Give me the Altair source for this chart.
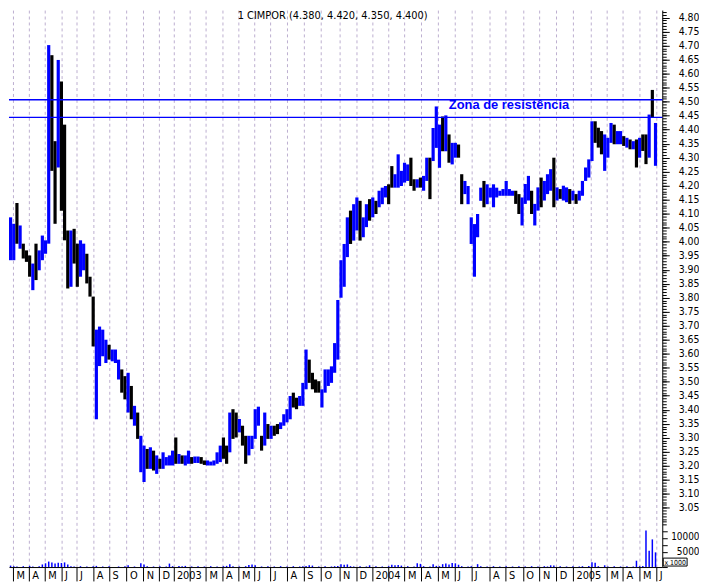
import json
import altair as alt
import numpy as np
import pandas as pd

FONT = "DejaVu Sans Condensed, Liberation Sans, sans-serif"

# ---------------- data ----------------
# one sample = 4 trading sessions; low / high price of each sample
lows = [
    3.934, 3.934, 3.993, 3.975, 3.940, 3.928, 3.875, 3.827, 3.863, 3.898,
    3.934, 3.957, 3.993, 4.253, 4.064, 4.265, 4.111, 4.005, 3.833, 3.839,
    3.922, 3.839, 3.875, 3.898, 3.851, 3.804, 3.626, 3.366, 3.556, 3.591,
    3.567, 3.579, 3.573, 3.567, 3.508, 3.461, 3.437, 3.390, 3.366, 3.343,
    3.296, 3.177, 3.142, 3.189, 3.189, 3.183, 3.171, 3.189, 3.189, 3.201,
    3.201, 3.201, 3.207, 3.207, 3.207, 3.201, 3.207, 3.207, 3.210, 3.210,
    3.207, 3.203, 3.201, 3.201, 3.201, 3.207, 3.213, 3.225, 3.207, 3.248,
    3.296, 3.301, 3.319, 3.272, 3.207, 3.237, 3.260, 3.296, 3.343, 3.254,
    3.272, 3.296, 3.296, 3.307, 3.313, 3.331, 3.343, 3.355, 3.366, 3.408,
    3.402, 3.414, 3.414, 3.473, 3.496, 3.473, 3.461, 3.461, 3.408, 3.461,
    3.485, 3.496, 3.532, 3.579, 3.800, 3.839, 3.945, 3.992, 4.004, 4.040,
    4.004, 4.016, 4.052, 4.075, 4.087, 4.099, 4.123, 4.134, 4.158, 4.134,
    4.193, 4.193, 4.193, 4.199, 4.211, 4.217, 4.199, 4.182, 4.193, 4.193,
    4.182, 4.217, 4.152, 4.288, 4.335, 4.264, 4.323, 4.323, 4.282, 4.276,
    4.300, 4.300, 4.134, 4.170, 4.134, 3.992, 3.875, 4.016, 4.146, 4.123,
    4.134, 4.158, 4.123, 4.158, 4.164, 4.164, 4.164, 4.164, 4.164, 4.135,
    4.099, 4.058, 4.135, 4.147, 4.099, 4.058, 4.111, 4.123, 4.147, 4.170,
    4.182, 4.123, 4.147, 4.153, 4.147, 4.141, 4.135, 4.147, 4.135, 4.147,
    4.164, 4.217, 4.229, 4.288, 4.353, 4.336, 4.312, 4.253, 4.300, 4.353,
    4.348, 4.348, 4.348, 4.342, 4.336, 4.330, 4.330, 4.265, 4.300, 4.324,
    4.277, 4.300, 4.442, 4.271,
]
highs = [
    4.087, 4.064, 4.138, 4.058, 3.993, 3.969, 3.951, 3.922, 3.993, 3.969,
    4.022, 4.005, 4.702, 4.666, 4.359, 4.649, 4.572, 4.418, 4.040, 4.040,
    4.046, 3.993, 4.005, 3.993, 3.957, 3.875, 3.804, 3.686, 3.697, 3.686,
    3.650, 3.632, 3.615, 3.615, 3.579, 3.544, 3.520, 3.532, 3.485, 3.414,
    3.390, 3.307, 3.272, 3.260, 3.266, 3.254, 3.237, 3.225, 3.248, 3.231,
    3.237, 3.254, 3.301, 3.242, 3.237, 3.237, 3.254, 3.231, 3.233, 3.233,
    3.231, 3.219, 3.219, 3.215, 3.219, 3.248, 3.272, 3.301, 3.272, 3.390,
    3.402, 3.390, 3.367, 3.343, 3.307, 3.307, 3.307, 3.402, 3.411, 3.307,
    3.390, 3.349, 3.343, 3.343, 3.349, 3.355, 3.384, 3.402, 3.449, 3.461,
    3.443, 3.449, 3.496, 3.615, 3.579, 3.532, 3.508, 3.502, 3.473, 3.544,
    3.544, 3.555, 3.638, 3.792, 3.934, 3.992, 4.087, 4.111, 4.134, 4.158,
    4.146, 4.087, 4.134, 4.152, 4.158, 4.146, 4.182, 4.193, 4.199, 4.205,
    4.270, 4.241, 4.312, 4.253, 4.282, 4.276, 4.300, 4.223, 4.223, 4.229,
    4.235, 4.300, 4.300, 4.406, 4.483, 4.418, 4.447, 4.451, 4.383, 4.353,
    4.353, 4.347, 4.241, 4.217, 4.199, 4.087, 4.063, 4.099, 4.193, 4.217,
    4.205, 4.193, 4.205, 4.193, 4.182, 4.188, 4.217, 4.188, 4.182, 4.182,
    4.170, 4.158, 4.206, 4.235, 4.182, 4.135, 4.194, 4.229, 4.217, 4.241,
    4.259, 4.300, 4.194, 4.188, 4.200, 4.194, 4.188, 4.182, 4.170, 4.182,
    4.217, 4.265, 4.294, 4.430, 4.430, 4.407, 4.395, 4.383, 4.371, 4.424,
    4.418, 4.395, 4.395, 4.377, 4.371, 4.365, 4.359, 4.365, 4.371, 4.383,
    4.383, 4.454, 4.542, 4.424,
]
# b = up (blue bar), k = down (black bar)
direction = (
    "bbkbkkkbkb" "bbbkkbkkkb" "kkbbkkkbbb" "bkbbbkkbkb" "kbbkbkbkbb"
    "bbkbkbbkbb" "kkbbbbbkkb" "kkbkkbbbbk" "bkbkkbbbbk" "kbbbkkkkbb"
    "bbbbbbbkbb" "kbbkbkbbbk" "kbbbbbkkbk" "bbkbbbkbkb" "bkkbbbbbbk"
    "bbbbbbbbbk" "kbbbkbbkbb" "bkbkbbkbkb" "bbbbkkkbbb" "kbbkbkbkbk"
    "kbkb"
)
volume = [
    500, 300, 200, 0, 300, 0, 400, 200, 0, 300,
    900, 1300, 1900, 1600, 1200, 1500, 1400, 1600, 900, 300,
    200, 0, 300, 0, 200, 0, 300, 400, 0, 200,
    0, 300, 0, 0, 200, 0, 300, 600, 0, 200,
    0, 1300, 900, 300, 0, 200, 0, 300, 0, 200,
    1200, 300, 0, 400, 300, 400, 0, 200, 0, 300,
    0, 200, 0, 300, 0, 200, 0, 300, 400, 1000,
    300, 0, 200, 0, 300, 700, 900, 600, 0, 200,
    0, 300, 0, 200, 0, 300, 0, 200, 0, 300,
    0, 200, 300, 400, 600, 500, 0, 200, 0, 300,
    0, 200, 300, 400, 1000, 800, 900, 300, 200, 0,
    300, 0, 200, 600, 0, 300, 0, 200, 0, 300,
    800, 600, 700, 500, 0, 300, 0, 200, 1300, 1100,
    300, 0, 200, 1000, 400, 300, 1000, 1200, 900, 1400,
    1300, 800, 300, 0, 200, 300, 0, 1000, 300, 0,
    200, 0, 300, 0, 200, 0, 300, 0, 200, 0,
    300, 0, 200, 0, 300, 0, 200, 0, 300, 200,
    600, 500, 0, 300, 0, 200, 0, 300, 0, 200,
    300, 0, 400, 1700, 1500, 300, 0, 600, 200, 0,
    300, 0, 200, 0, 300, 0, 200, 2200, 300, 400,
    12700, 5700, 9600, 5100,
]

# month axis: first session of Mar 2002, then trading sessions per month
first_month_session = 5
month_sessions = [20, 20, 21, 19, 21, 20, 22, 21, 20, 18,
                  20, 21, 21, 20, 20, 20, 21, 21, 22, 23, 21, 20,
                  21, 20, 21, 21, 21, 21, 23, 20, 22, 21, 21, 21,
                  22, 21, 20, 21, 21]
month_labels = ["M", "A", "M", "J", "J", "A", "S", "O", "N", "D",
                "2003", "", "M", "A", "M", "J", "J", "A", "S", "O", "N", "D",
                "2004", "", "M", "A", "M", "J", "J", "A", "S", "O", "N", "D",
                "2005", "", "M", "A", "M", "J"]
price_labels = [round(3.05 + 0.05 * k, 2) for k in range(36)]      # 3.05 .. 4.80
price_minor = [round(2.99 + 0.01 * k, 2) for k in range(184)]      # 2.99 .. 4.82
volume_labels = [5000, 10000]
volume_ticks = [0, 2500, 5000, 7500, 10000, 12500]

resistance = [4.507, 4.444]
resistance_text = "Zona de resistência"
resistance_text_pos = (553.75, 4.487)   # (session, price)
title_text = "1 CIMPOR (4.380, 4.420, 4.350, 4.400)"

assert len(lows) == len(highs) == len(direction) == len(volume)

n = len(lows)
idx = np.arange(n)
df = pd.DataFrame({
    "s0": idx * 4, "s1": idx * 4 + 4, "sc": idx * 4 + 2,
    "low": lows, "high": highs, "dir": list(direction), "vol": volume,
})
month_ticks = [int(v) for v in first_month_session + np.concatenate([[0], np.cumsum(month_sessions)])]

# ---------------- scales & axes ----------------
W, H = 658, 561
xscale = alt.Scale(domain=[0, 822.5], nice=False, zero=False)
pscale = alt.Scale(domain=[2.8384, 4.8271], nice=False, zero=False)
vscale = alt.Scale(domain=[0, 193448], nice=False, zero=True)

x_axis = alt.Axis(
    values=month_ticks,
    labelExpr=f"{json.dumps(month_labels)}[indexof({json.dumps(month_ticks)}, datum.value)]",
    title=None, grid=True, gridColor="#bcaed0", gridDash=[3, 3], gridWidth=1,
    tickSize=14, tickColor="black", domainColor="black",
    labelAlign="left", labelBaseline="middle", labelPadding=-5, labelOffset=3,
    labelFont=FONT, labelFontSize=11, labelColor="black",
    labelFlush=False, labelOverlap=False, labelBound=False,
)
X = alt.X("s0:Q", scale=xscale, axis=x_axis)

price_axis = alt.Axis(
    orient="right", values=price_labels, format=".2f", title=None, grid=False,
    tickSize=7, tickColor="black", domainColor="black",
    labelAlign="right", labelBaseline="middle", labelPadding=30,
    labelFont=FONT, labelFontSize=10.5, labelColor="black",
    labelOverlap=False, labelFlush=False, labelBound=False,
)
minor_axis = alt.Axis(
    orient="right", values=price_minor, title=None, grid=False, labels=False,
    tickSize=4, tickColor="black", domain=False,
)
vol_axis = alt.Axis(
    orient="right", values=volume_ticks, title=None, grid=False,
    labelExpr=f"indexof({json.dumps(volume_labels)}, datum.value) >= 0 ? datum.value : ''",
    tickSize=5, tickColor="black", domain=False,
    labelAlign="right", labelBaseline="middle", labelPadding=32, labelOffset=-1.5,
    labelFont=FONT, labelFontSize=10, labelColor="black",
    labelOverlap=False, labelFlush=False, labelBound=False,
)

color = alt.Color("dir:N", scale=alt.Scale(domain=["b", "k"], range=["#0000ff", "#000000"]), legend=None)

bars = alt.Chart(df).mark_bar().encode(
    x=X, x2="s1:Q",
    y=alt.Y("low:Q", scale=pscale, axis=price_axis), y2="high:Q",
    color=color,
)

res_df = pd.DataFrame({"level": resistance})
res_lines = alt.Chart(res_df).mark_rule(color="#0000ff", strokeWidth=1.4).encode(
    y=alt.Y("level:Q", scale=pscale, axis=minor_axis),
)

zona_df = pd.DataFrame({"s0": [resistance_text_pos[0]], "p": [resistance_text_pos[1]], "t": [resistance_text]})
zona = alt.Chart(zona_df).mark_text(
    font="Liberation Sans", fontSize=13, fontWeight="bold", color="#0000ff",
    align="left", baseline="middle",
).encode(x=X, y=alt.Y("p:Q", scale=pscale, axis=None), text="t:N")

vol = alt.Chart(df).mark_rule(color="#0000ff", strokeWidth=1.5).encode(
    x=alt.X("sc:Q", scale=xscale, axis=x_axis),
    y=alt.Y("vol:Q", scale=vscale, axis=vol_axis), y2=alt.datum(0),
)

title_df = pd.DataFrame({"t": [title_text]})
title = alt.Chart(title_df).mark_text(
    font=FONT, fontSize=11, color="black", align="center", baseline="top",
).encode(x=alt.value(326), y=alt.value(0), text="t:N")

box_df = pd.DataFrame({"t": ["x 1000"]})
box = alt.Chart(box_df).mark_rect(fill="white", stroke="black", strokeWidth=1).encode(
    x=alt.value(659), x2=alt.value(683), y=alt.value(552), y2=alt.value(560),
)
box_text = alt.Chart(box_df).mark_text(
    font=FONT, fontSize=7, color="black", align="center", baseline="middle",
).encode(x=alt.value(671), y=alt.value(556.5), text="t:N")

chart = alt.layer(bars, res_lines, zona, vol, title, box, box_text).resolve_scale(
    y="independent"
).properties(
    width=W, height=H, padding=0, background="white",
).configure_view(stroke=None)

chart.save("out.html", embed_options={"renderer": "svg", "actions": False})
